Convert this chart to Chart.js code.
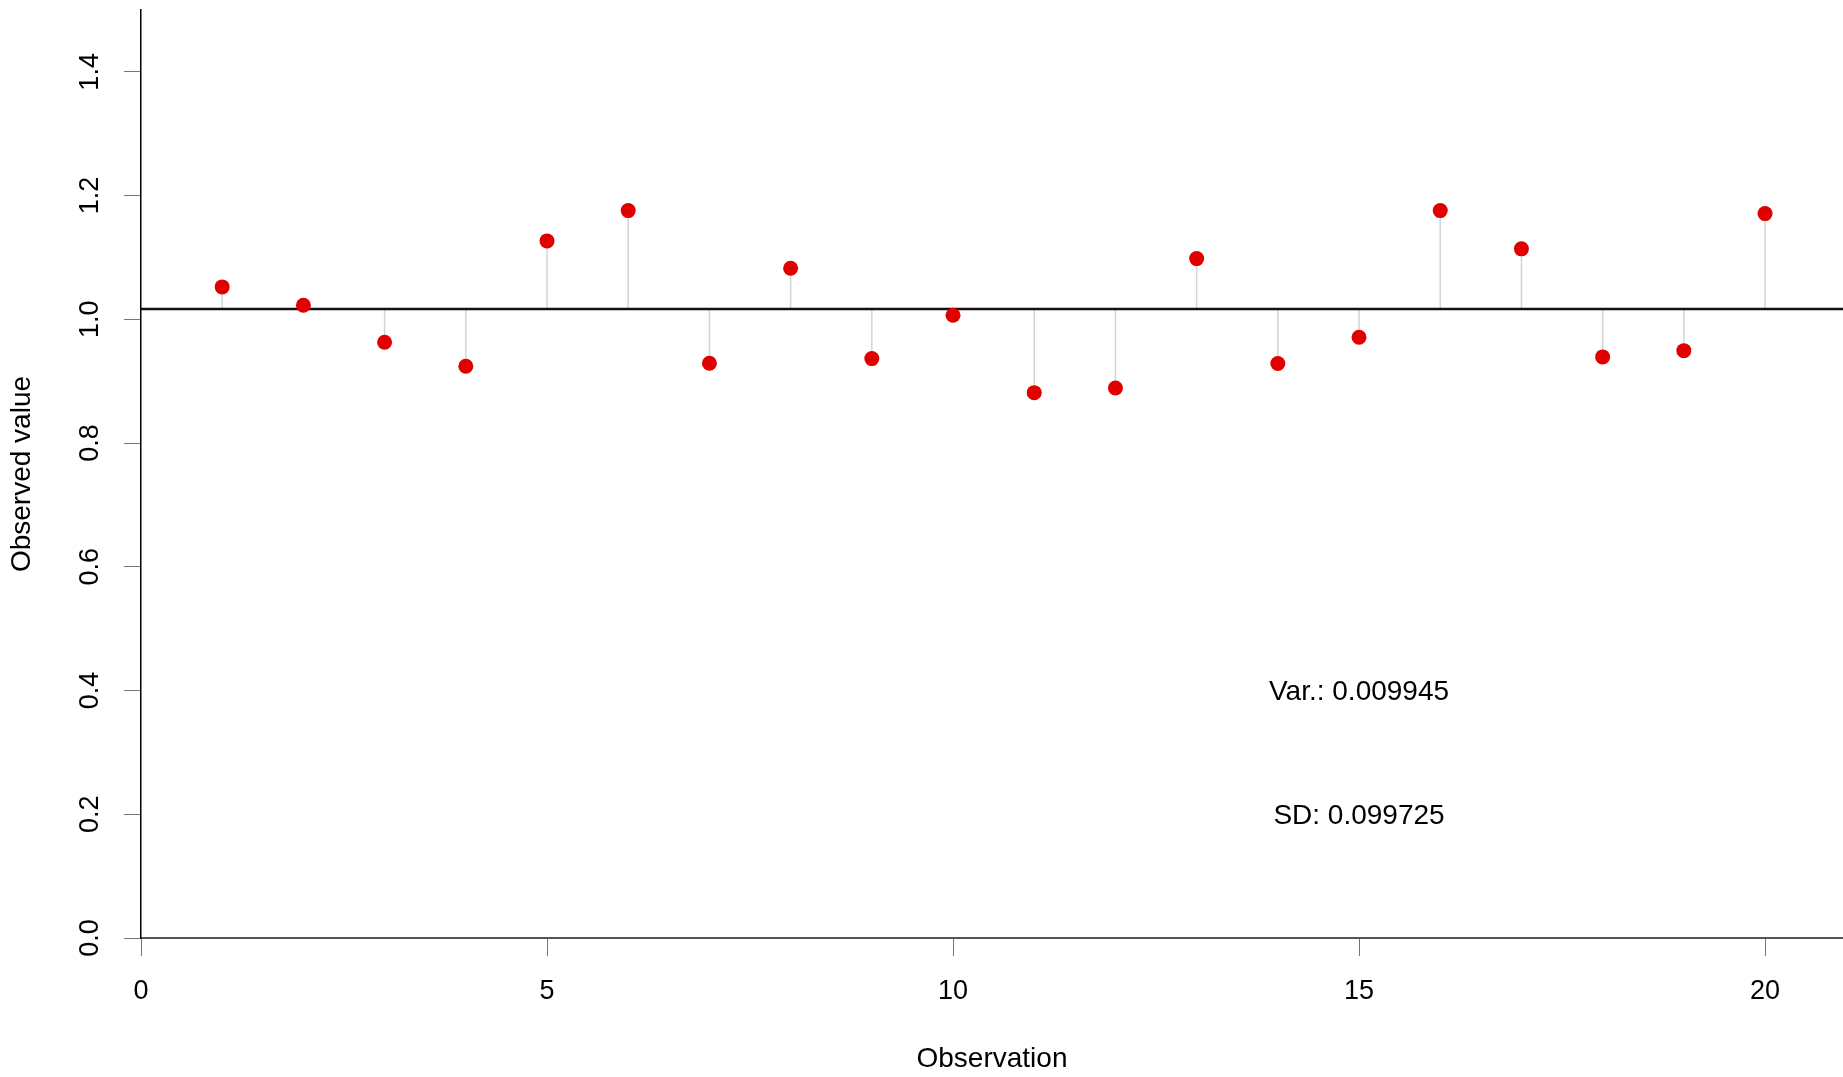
<!DOCTYPE html>
<html lang="en">
  <head>
    <meta charset="UTF-8" />
    <title>Observed values</title>
    <script src="https://cdn.jsdelivr.net/npm/chart.js"></script>
    <style>
      body {
        margin: 0;
        background: #fff;
      }
      .wrap {
        width: 1843px;
        height: 1077px;
      }
    </style>
  </head>
  <body>
    <div class="wrap">
      <canvas id="grafico"></canvas>
    </div>

    <script>
      // observations 1..20 and their values
      const observations = [1, 2, 3, 4, 5, 6, 7, 8, 9, 10, 11, 12, 13, 14, 15, 16, 17, 18, 19, 20];
      const values = [
        1.0524, 1.0227, 0.9629, 0.9241, 1.1268, 1.1758, 0.9289, 1.0825, 0.9365, 1.0065,
        0.8815, 0.8891, 1.0982, 0.9285, 0.971, 1.1758, 1.1139, 0.9393, 0.9494, 1.1709,
      ];
      const xTicks = [0, 5, 10, 15, 20];
      const yTicks = [0, 0.2, 0.4, 0.6, 0.8, 1.0, 1.2, 1.4];
      const xRange = [0, 20.96];
      const yRange = [0, 1.5];
      const notes = [
        { x: 15, y: 0.4, text: "Var.: 0.009945" },
        { x: 15, y: 0.2, text: "SD: 0.099725" },
      ];

      const FONT = "'Liberation Sans', Arial, sans-serif";

      const mean = values.reduce((a, b) => a + b, 0) / values.length;

      const points = observations.map((x, i) => ({ x, y: values[i] }));
      const stems = [];
      observations.forEach((x, i) => {
        stems.push({ x, y: mean }, { x, y: values[i] }, { x, y: null });
      });
      const meanLine = [
        { x: xRange[0], y: mean },
        { x: xRange[1], y: mean },
      ];

      // texts drawn in R style: vertical y labels, titles, notes
      const textos = {
        id: "textos",
        afterDraw(chart) {
          const ctx = chart.ctx;
          const xs = chart.scales.x;
          const ys = chart.scales.y;
          const area = chart.chartArea;
          ctx.save();
          ctx.fillStyle = "#000";
          ctx.textAlign = "center";
          ctx.textBaseline = "middle";

          ctx.font = "27px " + FONT;
          yTicks.forEach((v) => {
            ctx.save();
            ctx.translate(area.left - 50, ys.getPixelForValue(v));
            ctx.rotate(-Math.PI / 2);
            ctx.fillText(v.toFixed(1), 0, 0);
            ctx.restore();
          });
          xTicks.forEach((v) => {
            ctx.fillText(String(v), xs.getPixelForValue(v), area.bottom + 54);
          });

          ctx.font = "28px " + FONT;
          ctx.fillText("Observation", (area.left + area.right) / 2, area.bottom + 121);
          ctx.save();
          ctx.translate(22, (area.top + area.bottom) / 2);
          ctx.rotate(-Math.PI / 2);
          ctx.fillText("Observed value", 0, 0);
          ctx.restore();

          notes.forEach((n) => {
            ctx.fillText(n.text, xs.getPixelForValue(n.x), ys.getPixelForValue(n.y) + 2);
          });
          ctx.restore();
        },
      };

      new Chart(document.getElementById("grafico"), {
        type: "scatter",
        data: {
          datasets: [
            {
              label: "Observed",
              data: points,
              backgroundColor: "#e00000",
              borderColor: "#e00000",
              borderWidth: 0,
              pointRadius: 7.5,
              pointHoverRadius: 7.5,
            },
            {
              label: "Mean",
              data: meanLine,
              showLine: true,
              borderColor: "#111",
              borderWidth: 2.5,
              pointRadius: 0,
            },
            {
              label: "Stems",
              data: stems,
              showLine: true,
              spanGaps: false,
              borderColor: "#d4d4d4",
              borderWidth: 1.5,
              pointRadius: 0,
            },
          ],
        },
        options: {
          responsive: true,
          maintainAspectRatio: false,
          animation: false,
          layout: {
            autoPadding: false,
            padding: { top: 10, right: 0, left: 0, bottom: 0 },
          },
          plugins: {
            legend: { display: false },
            tooltip: { enabled: false },
          },
          scales: {
            x: {
              type: "linear",
              min: xRange[0],
              max: xRange[1],
              afterBuildTicks: (s) => {
                s.ticks = xTicks.map((v) => ({ value: v }));
              },
              afterFit: (s) => {
                s.height = 139;
              },
              ticks: { display: false },
              grid: {
                drawOnChartArea: false,
                drawTicks: true,
                tickLength: 18,
                color: "#777",
                lineWidth: 1,
              },
              border: { display: true, color: "#555", width: 2 },
            },
            y: {
              type: "linear",
              min: yRange[0],
              max: yRange[1],
              afterBuildTicks: (s) => {
                s.ticks = yTicks.map((v) => ({ value: v }));
              },
              afterFit: (s) => {
                s.width = 141;
              },
              ticks: { display: false },
              grid: {
                drawOnChartArea: false,
                drawTicks: true,
                tickLength: 17,
                color: "#777",
                lineWidth: 1,
              },
              border: { display: true, color: "#000", width: 1.5 },
            },
          },
        },
        plugins: [textos],
      });
    </script>
  </body>
</html>
